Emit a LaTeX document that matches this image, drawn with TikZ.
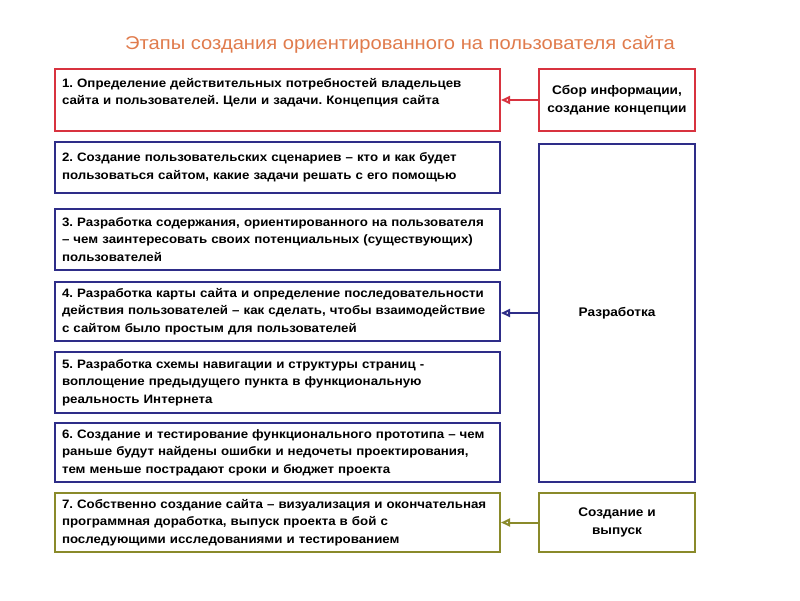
\documentclass[tikz,border=0pt]{standalone}
\usepackage{fontspec}
\setmainfont{Liberation Sans}[FakeStretch=1.09]
\usetikzlibrary{arrows.meta}
\definecolor{stageRed}{HTML}{D8333F}
\definecolor{stageBlue}{HTML}{2E2D88}
\definecolor{stageOlive}{HTML}{8A8A2A}
\definecolor{titleOrange}{HTML}{E07B4C}
\frenchspacing
\tikzset{
  stagebox/.style={draw=#1, line width=2pt, anchor=north west, inner xsep=7pt, inner ysep=3pt,
    text width=431pt, align=left, font=\fontsize{12.2}{17.5}\selectfont\bfseries},
  phasebox/.style={draw=#1, line width=2pt, anchor=north west, inner sep=0pt,
    minimum width=156pt, align=center, font=\fontsize{12.5}{17.5}\selectfont\bfseries},
  phasearrow/.style={draw=#1, line width=2pt, -{Triangle[open, length=9pt, width=8pt]}}
}
\begin{document}
\begin{tikzpicture}[x=1pt,y=-1pt]
\useasboundingbox (0,0) rectangle (800,600);
\node[font=\fontsize{18.5}{20}\selectfont, text=titleOrange] (title) at (400,45) {Этапы создания ориентированного на пользователя сайта};
\node[stagebox=stageRed, minimum height=62pt] (s1) at (54,68) {1. Определение действительных потребностей владельцев\\сайта и пользователей. Цели и задачи. Концепция сайта\\\mbox{}};
\node[stagebox=stageBlue, minimum height=51pt] (s2) at (54,141) {2. Создание пользовательских сценариев -- кто и как будет\\пользоваться сайтом, какие задачи решать с его помощью};
\node[stagebox=stageBlue, minimum height=61pt] (s3) at (54,208) {3. Разработка содержания, ориентированного на пользователя\\-- чем заинтересовать своих потенциальных (существующих)\\пользователей};
\node[stagebox=stageBlue, minimum height=59pt] (s4) at (54,281) {4. Разработка карты сайта и определение последовательности\\действия пользователей -- как сделать, чтобы взаимодействие\\с сайтом было простым для пользователей};
\node[stagebox=stageBlue, minimum height=61pt] (s5) at (54,351) {5. Разработка схемы навигации и структуры страниц -\\воплощение предыдущего пункта в функциональную\\реальность Интернета};
\node[stagebox=stageBlue, minimum height=59pt] (s6) at (54,422) {6. Создание и тестирование функционального прототипа -- чем\\раньше будут найдены ошибки и недочеты проектирования,\\тем меньше пострадают сроки и бюджет проекта};
\node[stagebox=stageOlive, minimum height=59pt] (s7) at (54,492) {7. Собственно создание сайта -- визуализация и окончательная\\программная доработка, выпуск проекта в бой с\\последующими исследованиями и тестированием};
\node[phasebox=stageRed, minimum height=62pt] (p1) at (538,68) {Сбор информации,\\создание концепции};
\node[phasebox=stageBlue, minimum height=338pt] (p2) at (538,143) {Разработка};
\node[phasebox=stageOlive, minimum height=59pt] (p3) at (538,492) {Создание и\\выпуск};
\draw[phasearrow=stageRed] (p1.west) -- (p1.west -| s1.east);
\draw[phasearrow=stageBlue] (p2.west) -- (p2.west -| s4.east);
\draw[phasearrow=stageOlive] (p3.west) -- (p3.west -| s7.east);
\end{tikzpicture}
\end{document}
